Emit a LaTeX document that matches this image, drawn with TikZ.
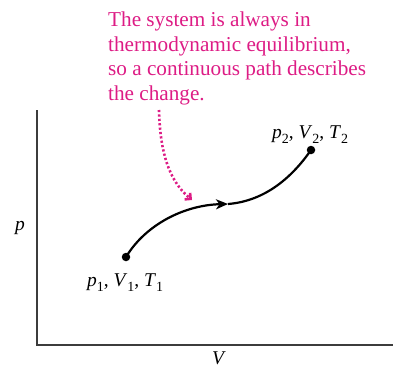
\documentclass[tikz,border=0pt]{standalone}
\usepackage{fontspec}
\setmainfont{Liberation Serif}
\usetikzlibrary{arrows.meta}
\definecolor{mag}{RGB}{221,28,133}
\definecolor{axisgray}{RGB}{60,60,60}
\newcommand{\sbx}[1]{\raisebox{-0.28em}{\fontsize{14}{14}\selectfont #1}}
\tikzset{
  axisline/.style={draw=axisgray, line width=1.3pt},
  dotnode/.style={circle, fill=black, inner sep=0pt, minimum size=8.5pt},
  lbl/.style={font=\fontsize{19.5}{21}\selectfont, inner sep=0pt},
  note/.style={font=\fontsize{21.2}{24.4}\selectfont, text=mag, align=left, inner sep=0pt},
  pathline/.style={line width=2.2pt, black},
  callout/.style={draw=mag, line width=2.6pt, dash pattern=on 2.2pt off 2.2pt}
}
\begin{document}
\begin{tikzpicture}[x=1pt,y=-1pt]
\useasboundingbox (0,0) rectangle (394,367);
% axes
\coordinate (top) at (37,110);
\coordinate (org) at (37,345);
\coordinate (right) at (393,345);
\draw[axisline] (top) -- (org) -- (right);
\node[lbl, anchor=base] (plab) at (20,230) {\textit{p}};
\node[lbl, anchor=base] (vlab) at (219,364) {\textit{V}};
% states
\node[dotnode] (s1) at (126,257) {};
\node[dotnode] (s2) at (311,150) {};
\coordinate (mid) at (228,204);
\draw[pathline, -{Stealth[length=12pt,width=10pt,inset=3.5pt]}] (s1.center) .. controls (146,224) and (185,205) .. (mid);
\draw[pathline] (mid) .. controls (266,201) and (293,176) .. (s2.center);
\node[lbl, anchor=base west] (l1) at (87,286) {\textit{p}\sbx{1}, \textit{V}\sbx{1}, \textit{T}\sbx{1}};
\node[lbl, anchor=base west] (l2) at (272,138) {\textit{p}\sbx{2}, \textit{V}\sbx{2}, \textit{T}\sbx{2}};
% note
\node[note, anchor=base west] (txt) at (108,100) {The system is always in\\thermodynamic equilibrium,\\so a continuous path describes\\the change.};
\coordinate (cstart) at (159,110);
\coordinate (cend) at (192,200);
\draw[callout, -{Straight Barb[angle=90:6pt, line width=2.6pt]}] (cstart) .. controls (160,150) and (168,180) .. (cend);
\end{tikzpicture}
\end{document}
